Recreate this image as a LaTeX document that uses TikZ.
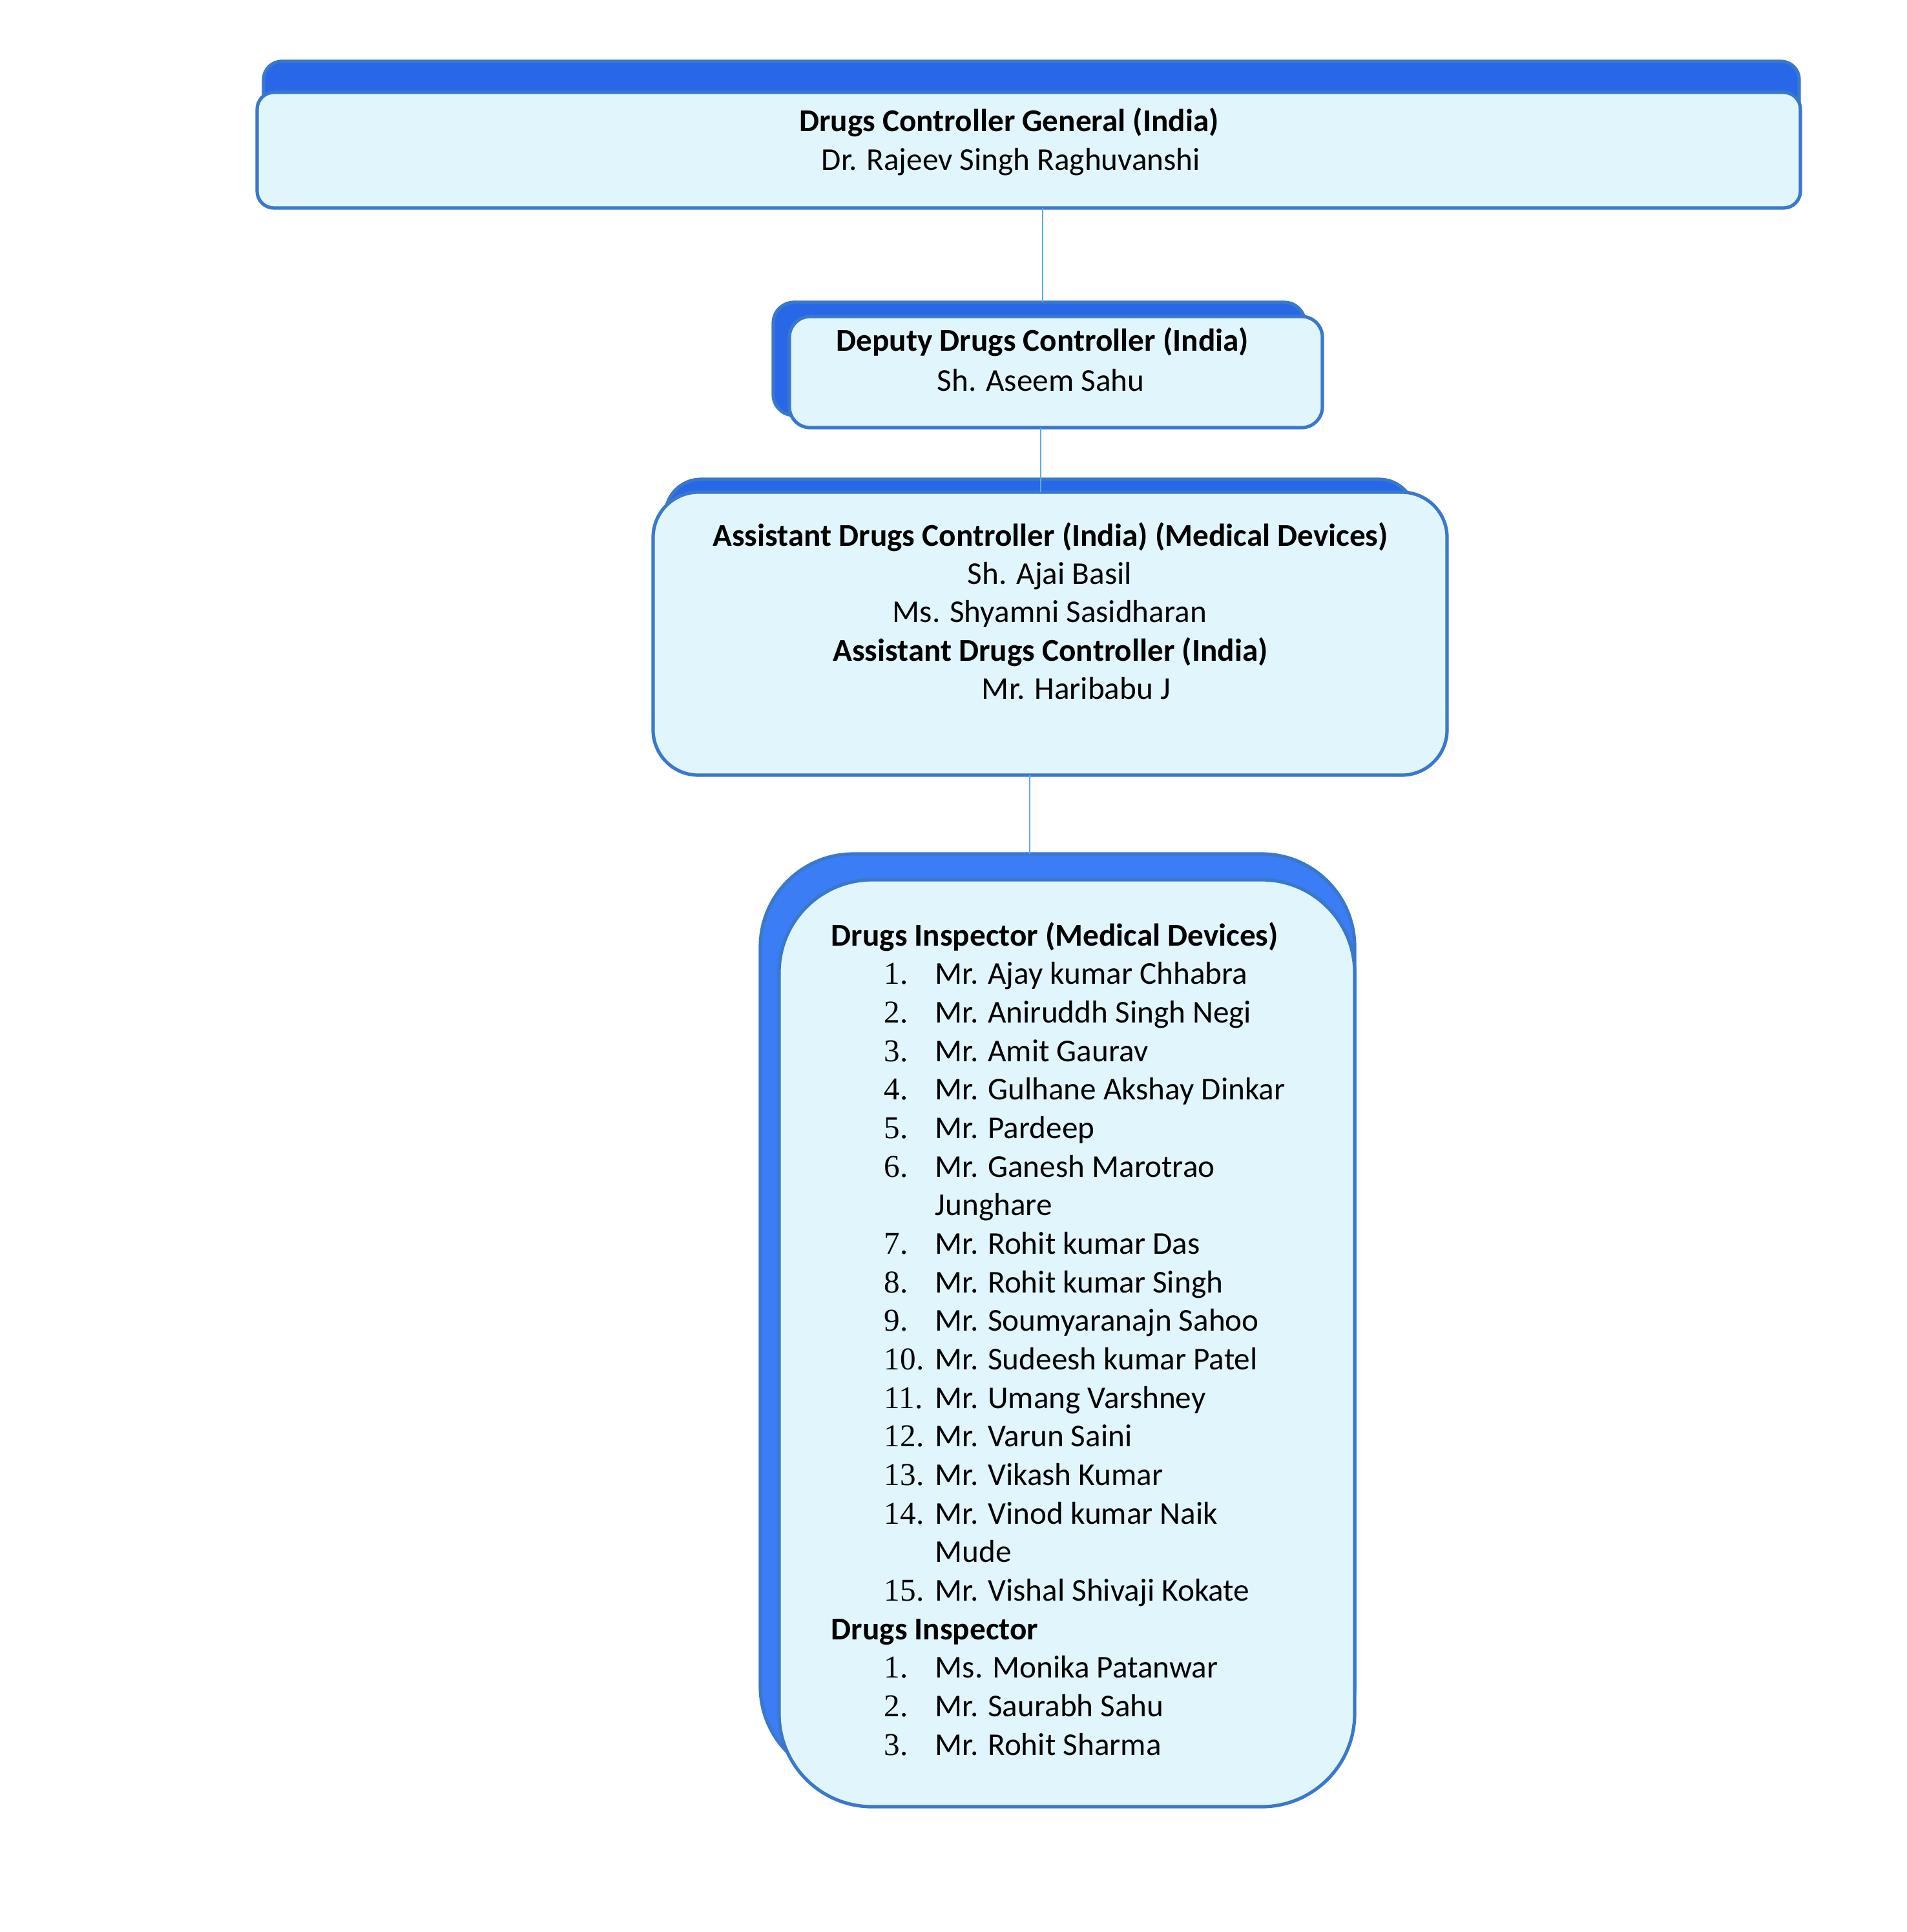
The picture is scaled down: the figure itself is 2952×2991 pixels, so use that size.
\documentclass[tikz,border=0pt]{standalone}
\usepackage{fontspec}
\setmainfont{Carlito}
\newfontfamily\numfont{Liberation Serif}
\definecolor{backblue}{HTML}{2767E8}
\definecolor{backblue4}{HTML}{3A7DF5}
\definecolor{edgeblue}{HTML}{3A78CC}
\definecolor{frontfill}{HTML}{E1F5FD}
\definecolor{linkblue}{HTML}{5DA9E9}
\tikzset{
  backbox/.style={draw=edgeblue, fill=backblue, line width=1.3pt, inner sep=0pt, outer sep=0pt, anchor=north west},
  frontbox/.style={draw=edgeblue, fill=frontfill, line width=1.3pt, inner sep=0pt, outer sep=0pt, anchor=north west},
  link/.style={draw=linkblue, line width=0.5pt},
  txt/.style={inner sep=0pt, anchor=base, font=\fontsize{12.3}{15}\selectfont},
  btxt/.style={txt, font=\fontsize{12.3}{15}\selectfont\bfseries},
  ltxt/.style={txt, anchor=base west},
  lbtxt/.style={btxt, anchor=base west},
  ntxt/.style={inner sep=0pt, anchor=base west, font=\fontsize{12.3}{15}\selectfont\numfont},
}
\begin{document}
\begin{tikzpicture}[x=0.25pt,y=-0.25pt]
\useasboundingbox (0,0) rectangle (2952,2991);
% box 1
\node[backbox, rounded corners=7pt, minimum width=594.25pt, minimum height=51.25pt] (b1back) at (408,95) {};
\node[frontbox, rounded corners=6.5pt, minimum width=597.25pt, minimum height=44.75pt] (b1) at (398,143) {};
\node[btxt] (t11) at (1562,203) {Drugs Controller General (India)};
\node[txt] (t12) at (1565,263) {Dr. Rajeev Singh Raghuvanshi};
% box 2
\node[backbox, rounded corners=8pt, minimum width=205.75pt, minimum height=43.75pt] (b2back) at (1197,468) {};
\node[frontbox, rounded corners=8pt, minimum width=206.25pt, minimum height=43pt] (b2) at (1222,490) {};
\node[btxt] (t21) at (1614,543) {Deputy Drugs Controller (India)};
\node[txt] (t22) at (1611,605) {Sh. Aseem Sahu};
% box 3
\node[backbox, rounded corners=13.75pt, minimum width=290pt, minimum height=102pt] (b3back) at (1030,742) {};
\node[frontbox, rounded corners=17.5pt, minimum width=307.25pt, minimum height=109.5pt] (b3) at (1011,762) {};
\node[btxt] (t31) at (1626,845) {Assistant Drugs Controller (India) (Medical Devices)};
\node[txt] (t32) at (1625,904) {Sh. Ajai Basil};
\node[txt] (t33) at (1625,963) {Ms. Shyamni Sasidharan};
\node[btxt] (t34) at (1626,1023) {Assistant Drugs Controller (India)};
\node[txt] (t35) at (1666,1082) {Mr. Haribabu J};
% box 4
\node[backbox, fill=backblue4, rounded corners=36pt, minimum width=230pt, minimum height=358.25pt] (b4back) at (1177,1322) {};
\node[frontbox, rounded corners=36pt, minimum width=222.75pt, minimum height=358.75pt] (b4) at (1206,1362) {};
% connectors
\coordinate (c1a) at (1614,322);
\coordinate (c1b) at (1614,468);
\coordinate (c2a) at (1611,662);
\coordinate (c2b) at (1611,762);
\coordinate (c3a) at (1594,1200);
\coordinate (c3b) at (1594,1322);
\draw[link] (c1a) -- (c1b);
\draw[link] (c2a) -- (c2b);
\draw[link] (c3a) -- (c3b);
% list
\def\ls{59.67}
\node[lbtxt] (h1) at (1286,1464) {Drugs Inspector (Medical Devices)};
\foreach \i/\n/\name in {1/1/Mr. Ajay kumar Chhabra,2/2/Mr. Aniruddh Singh Negi,3/3/Mr. Amit Gaurav,4/4/Mr. Gulhane Akshay Dinkar,5/5/Mr. Pardeep,6/6/Mr. Ganesh Marotrao,8/7/Mr. Rohit kumar Das,9/8/Mr. Rohit kumar Singh,10/9/Mr. Soumyaranajn Sahoo,11/10/Mr. Sudeesh kumar Patel,12/11/Mr. Umang Varshney,13/12/Mr. Varun Saini,14/13/Mr. Vikash Kumar,15/14/Mr. Vinod kumar Naik,17/15/Mr. Vishal Shivaji Kokate}{
  \node[ntxt] (n\i) at (1368,1464+\i*\ls) {\n.};
  \node[ltxt] (m\i) at (1447,1464+\i*\ls) {\name};
}
\node[ltxt] (m7) at (1447,1464+7*\ls) {Junghare};
\node[ltxt] (m16) at (1447,1464+16*\ls) {Mude};
\node[lbtxt] (h2) at (1286,1464+18*\ls) {Drugs Inspector};
\foreach \i/\n/\name in {19/1/Ms. Monika Patanwar,20/2/Mr. Saurabh Sahu,21/3/Mr. Rohit Sharma}{
  \node[ntxt] (n\i) at (1368,1464+\i*\ls) {\n.};
  \node[ltxt] (m\i) at (1447,1464+\i*\ls) {\name};
}
\end{tikzpicture}
\end{document}
